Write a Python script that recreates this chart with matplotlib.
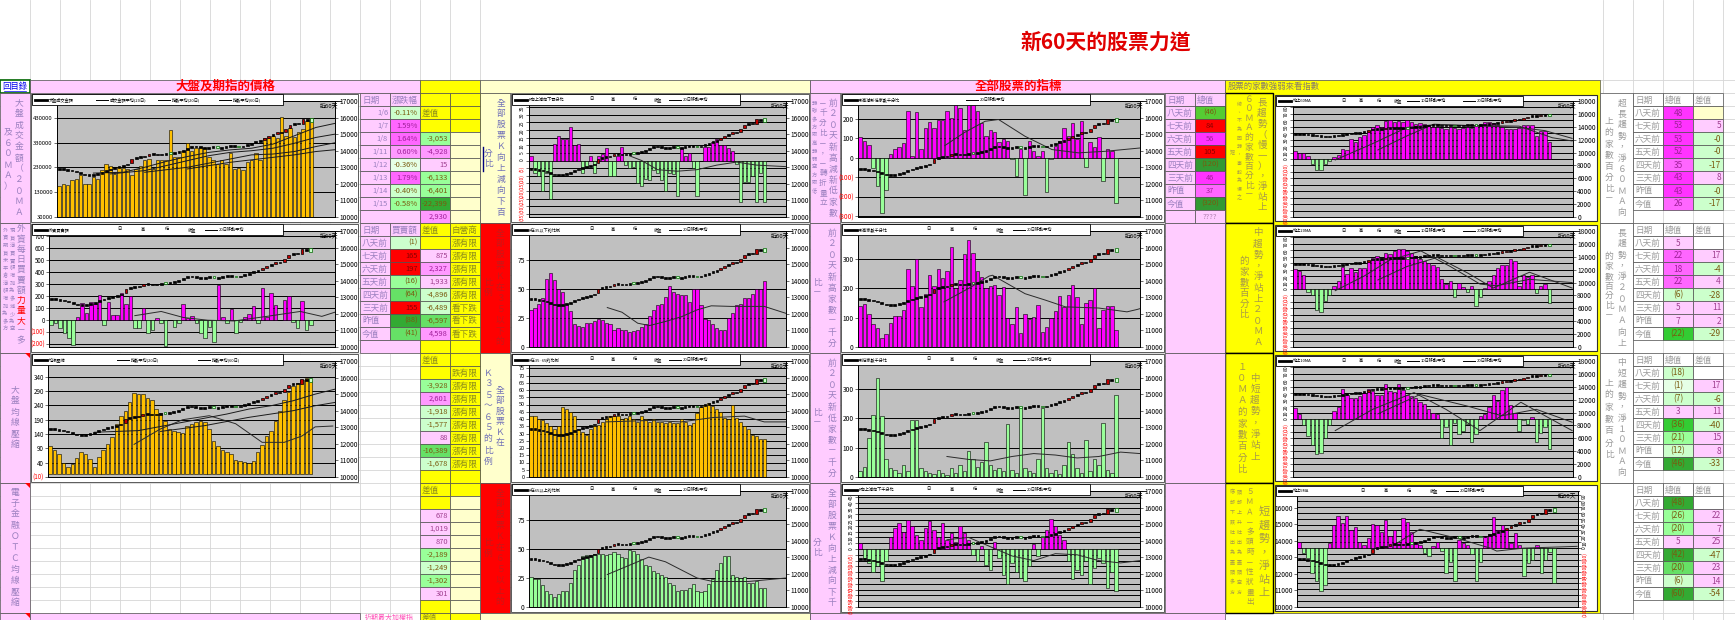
import numpy as np
import matplotlib
matplotlib.use('Agg')
import matplotlib.pyplot as plt
from matplotlib.patches import Rectangle, Polygon

plt.rcParams['font.family'] = ['Noto Sans CJK TC', 'DejaVu Sans']
plt.rcParams['axes.unicode_minus'] = False

# ======================= DATA =======================
index_close = [12900, 12860, 12840, 12800, 12700, 12600, 12540, 12500, 12540, 12600,
               12700, 12800, 12900, 12960, 13040, 13100, 13200, 13500, 13600, 13640,
               13660, 13800, 13800, 13760, 13800, 13800, 13800, 13900, 13940, 14040,
               14160, 14240, 14260, 14200, 14140, 14200, 14240, 14160, 14200, 14240,
               14300, 14260, 14200, 14300, 14360, 14460, 14540, 14640, 14760, 14880,
               14960, 15100, 15085, 15325, 15576, 15670, 15614, 15893, 15829, 15737]
index_open = [12880, 12900, 12850, 12830, 12780, 12680, 12580, 12540, 12500, 12560,
              12640, 12720, 12840, 12920, 12980, 13060, 13120, 13230, 13520, 13600,
              13630, 13700, 13820, 13800, 13740, 13780, 13900, 13820, 13900, 13960,
              14080, 14180, 14230, 14260, 14220, 14150, 14210, 14260, 14150, 14190,
              14250, 14300, 14300, 14220, 14320, 14380, 14480, 14560, 14650, 14780,
              14900, 14980, 15120, 15120, 15360, 15590, 15680, 15620, 15880, 16000]

# A1 market turnover (thousands)
a1_volume_k = [154, 165, 161, 178, 185, 198, 165, 165, 191, 182, 218, 245, 234, 205, 231, 229, 222, 198, 225, 234,
               258, 263, 222, 258, 258, 258, 381, 271, 271, 298, 327, 298, 309, 314, 309, 271, 258, 245, 258, 245,
               287, 225, 229, 221, 251, 258, 287, 258, 349, 349, 355, 349, 434, 358, 391, 351, 371, 385, 418, 431]
a1_ticks_k = [30, 130, 230, 330, 430]
a1_ticklabels = ['30000', '130000', '230000', '330000', '430000']
a1_ma_a = [(8, 12650), (15, 12700), (20, 13000), (25, 13350), (30, 13650), (35, 13900), (40, 14050),
           (45, 14150), (50, 14400), (55, 14900), (60, 15400), (64.5, 15650)]
a1_ma_b = [(12, 12600), (20, 12800), (25, 13100), (30, 13400), (35, 13700), (40, 13900), (45, 14000),
           (50, 14150), (55, 14450), (60, 14800), (64.5, 15000)]
a1_ma_c = [(20, 12700), (30, 13000), (40, 13500), (45, 13750), (50, 13800), (55, 13950), (60, 14250), (64.5, 14480)]
a1_ma_d = [(30, 12900), (40, 13300), (50, 13600), (55, 13750), (60, 13950), (64.5, 14060)]

# A2 foreign investors net buy/sell
a2_foreign = [-42, -23, -70, -113, -155, -211, 25, 142, 58, 150, 136, 209, -42, 150, 40, 40, 223, 136, 200, -70,
              -70, 98, -113, -85, 12, -23, -220, 1, -62, -30, 136, 12, 35, -30, -113, -155, -60, -183, 290, 20,
              -30, 93, -107, -20, 20, 50, 116, -25, 267, 20, 223, 122, -1, 165, 197, -16, -64, 155, -88, -41]
a2_ma = [(19, 35), (25, 70), (30, 20), (35.6, -3), (41.6, -9), (49, 29), (56.6, 70), (61.5, 29), (64.5, 64)]

# A3 MA compression
a3_compress = [97, 86, 72, 40, 26, 36, 58, 79, 72, 54, 26, 61, 83, 104, 130, 176, 204, 219, 251, 283,
               280, 280, 265, 258, 226, 212, 186, 158, 151, 147, 143, 169, 176, 183, 187, 183, 158, 115, 97, 86,
               79, 69, 51, 47, 43, 40, 47, 76, 101, 133, 151, 187, 222, 258, 286, 308, 319, 329, 336, 326]
a3_bar_ma = [(19, 104), (25, 158), (30, 190), (36, 204), (42, 176), (48, 111), (53, 111), (57, 133), (60, 165), (64, 168)]
a3_ma20 = [(10, 12700), (20, 12800), (30, 13300), (40, 13800), (45, 14100), (50, 14300), (55, 14600), (60, 15000), (64.5, 15300)]
a3_ma60 = [(25, 12750), (35, 13100), (45, 13600), (55, 14000), (60, 14300), (64.5, 14500)]

# B column: K-value statistics
b1_kdiff = [3, -8, -10, -20, -8, -25, 11, 16, 14, 14, 22, 10, 11, -8, -5, 3, -8, 3, 4, 8,
            -10, -10, 3, 9, -3, -5, -4, -15, -17, -12, -13, -6, -8, -13, -20, -8, -9, -23, 8, 3,
            5, -5, -23, 0, 9, 9, 12, 14, 10, 10, 8, 6, -2, -27, -14, -14, -10, -27, -8, -27]
b1_ma = [(25, 3), (28, 0), (32, -6), (37, -7), (42, -6), (47, -3), (52, -1), (57, -3), (64.5, -4)]
b2_k_low = [32, 34, 37, 42, 59, 64, 58, 50, 47, 37, 31, 20, 18, 17, 21, 21, 22, 24, 23, 21,
            20, 15, 16, 15, 15, 13, 14, 15, 17, 20, 27, 32, 36, 37, 43, 53, 47, 46, 45, 45,
            39, 50, 50, 36, 24, 23, 20, 16, 15, 15, 25, 29, 36, 37, 42, 42, 46, 50, 50, 57]
b2_ma = [(19.3, 34), (23, 30), (27, 20.5), (30, 18.5), (34, 22), (38, 26), (42, 32), (45.6, 35.5),
         (50.6, 35), (54.8, 35), (59, 35), (64.5, 29)]
b3_k_mid = [42, 42, 40, 39, 37, 35, 33, 35, 48, 47, 45, 42, 33, 31, 29, 33, 35, 36, 38, 40,
            42, 42, 42, 40, 41, 42, 40, 38, 42, 40, 38, 40, 38, 38, 37, 38, 37, 37, 40, 38,
            36, 37, 44, 48, 50, 51, 49, 47, 45, 41, 40, 50, 41, 38, 35, 33, 29, 28, 26, 26]
b3_ma = [(19, 38), (30, 39), (38, 38), (46, 41), (54, 42), (59, 38), (64.5, 38)]
b4_k_high = [26, 24, 24, 19, 14, 11, 9, 11, 14, 14, 21, 32, 36, 44, 45, 45, 46, 46, 46, 45,
             46, 47, 46, 43, 42, 49, 48, 46, 41, 36, 35, 31, 29, 28, 26, 21, 19, 14, 15, 15,
             16, 20, 14, 13, 14, 20, 24, 32, 38, 44, 44, 28, 26, 25, 26, 21, 21, 22, 16, 16]
b4_ma = [(19.3, 28), (29.8, 43), (34, 39), (42, 25), (46, 22), (55, 22), (64.5, 25)]

# C column: new highs / new lows
c1_hl_diff = [108, 85, 65, -50, -145, -280, -165, 22, 47, 57, 75, 240, 12, 235, 47, 155, 185, 155, 197, 197,
              240, 205, 282, 255, 145, 282, 282, 240, 180, 110, 145, 135, 80, 95, 85, -5, -95, 47, -190, 85,
              35, 12, 35, -175, -5, 60, 85, 155, 110, 180, 95, 190, -46, 84, 56, 105, -120, 46, 37, -230]
c1_ma = [(19.5, 63), (24, 130), (28.8, 188), (31.9, 197), (38, 111), (44.2, 43), (50.3, 26), (56.5, 34), (64.5, 51)]
c2_new_high = [139, 148, 114, 80, 66, 32, 46, 83, 107, 107, 128, 265, 207, 299, 137, 182, 245, 207, 265, 234,
               259, 340, 200, 228, 317, 365, 322, 259, 240, 200, 207, 211, 177, 205, 100, 80, 135, 49, 114, 95,
               103, 145, 50, 68, 100, 123, 173, 137, 179, 213, 169, 78, 151, 160, 200, 66, 125, 139, 139, 57]
c2_ma = [(19.3, 154), (25, 200), (29.7, 242), (30.5, 245), (38, 182), (42.7, 160), (47.3, 137), (55, 133),
         (61.5, 120), (63.8, 128), (64.5, 131)]
c3_new_low = [20, 35, 133, 211, 338, 208, 60, 30, 25, 15, 40, 20, 195, 195, 30, 20, 15, 10, 25, 12,
              8, 30, 15, 40, 20, 90, 60, 35, 50, 120, 40, 25, 30, 20, 180, 25, 15, 239, 30, 20,
              15, 60, 235, 30, 15, 25, 10, 40, 120, 80, 30, 15, 128, 20, 60, 40, 186, 25, 15, 280]
c3_ma = [(20, 70), (25, 60), (30, 55), (35, 70), (40, 80), (45, 75), (50, 65), (55, 70), (60, 85), (64.5, 80)]
c4_kdiff = [5, -8, -12, -20, -15, -28, -10, 10, 18, 22, 15, 25, 20, 12, 8, 18, 24, 16, 10, 22,
            8, 14, 6, 20, 14, 8, -5, -10, 3, -14, -18, 6, -8, -22, -30, -12, -20, -25, -28, -15,
            4, -6, 10, 16, 26, 20, 12, 8, -10, -26, -18, -22, -10, -30, -16, -8, -12, -34, -20, -36]
c4_ma = [(20, 8), (25, 10), (30, 2), (35, -6), (40, -10), (45, -4), (50, -5), (55, -10), (60, -12), (64.5, -10)]

# D column: percentage of stocks above moving averages
d1_ma60 = [13, 10, 9, 4, -8, -17, -17, -8, -3, 3, 6, 15, 14, 31, 27, 34, 37, 44, 49, 53,
           50, 59, 60, 58, 59, 58, 60, 57, 55, 56, 55, 52, 50, 50, 48, 47, 49, 48, 46, 48,
           50, 48, 52, 55, 57, 58, 56, 52, 50, 47, 46, 46, 48, 53, 53, 52, 35, 43, 43, 26]
d1_line1 = [(9.3, -1.5), (17.7, 23), (26, 49), (32, 53), (40, 52), (52, 51), (59.7, 33), (64.3, 28)]
d1_line2 = [(19.2, 14), (26, 36), (32.2, 54), (40, 52), (52, 49), (58, 44), (64.3, 32)]
d2_ma20 = [31, 28, 21, -4, -10, -33, -36, -18, -10, 5, 13, 34, 23, 33, 26, 33, 33, 44, 48, 51,
           48, 56, 55, 59, 62, 62, 59, 56, 51, 46, 44, 41, 38, 34, 15, 8, 13, -12, 10, 3,
           -5, 5, -27, -13, 2, 13, 22, 33, 38, 37, 46, 44, 5, 22, 18, 22, -6, 5, 7, -22]
d2_line1 = [(9.3, -2.6), (16, 20), (22, 45), (29.2, 59), (36, 35), (42.9, 7.7), (46.7, 5), (54.4, 15), (64.3, 10)]
d2_line2 = [(19.2, 14), (26, 35), (33, 49), (40, 25), (46, 1.5), (54.4, 26), (64.3, 1.5)]
d3_ma10 = [17, 8, -10, -26, -40, -54, -52, -29, -10, 12, 18, 46, 38, 33, 32, 36, 41, 46, 44, 38,
           38, 54, 44, 42, 55, 45, 38, 36, 32, 26, 23, 15, 10, 8, -29, -12, -41, -6, -23, -18,
           -8, -36, -23, 4, 8, 18, 37, 28, 45, 49, 22, 10, -18, -1, -7, 3, -36, -21, -12, -46]
d3_line1 = [(9.3, -18), (18, 15), (27.6, 41), (35, 15), (42.9, -18), (52.4, 26), (58, 5), (64.3, -18)]
d3_line2 = [(19.2, 8), (29, 38), (40, 20), (48, 5), (56, 15), (64.3, -5)]
d4_ma5 = [11, -8, -17, -42, -56, -73, -62, 8, 40, 55, 42, 55, 31, 36, 11, 6, 17, 41, 40, 28,
          48, 20, 31, 11, 51, 45, 28, 11, 6, -8, -13, 3, 10, -5, -43, -23, -56, 14, 8, 6,
          -10, -56, -23, 20, 24, 53, 31, 40, 31, 8, 25, 5, -48, -26, -20, 5, -42, -20, -6, -60]
d4_line = [(22.5, 8), (27.9, 32), (36.4, 17), (44.2, 0), (45.7, -5), (51.9, 0), (64.3, 3)]

# tables
t1_dates = ['1/6', '1/7', '1/8', '1/11', '1/12', '1/13', '1/14', '1/15']
t1_pct = ['-0.11%', '1.59%', '1.64%', '0.60%', '-0.36%', '1.79%', '-0.40%', '-0.58%']
t1_diff = ['-3,053', '-4,928', '15', '-6,133', '-6,401', '-22,399']
t1_diff_last = '2,930'
day_names = ['八天前', '七天前', '六天前', '五天前', '四天前', '三天前', '昨值', '今值']
t2_amount = ['(1)', '165', '197', '(16)', '(64)', '155', '(88)', '(41)']
t2_diff = ['875', '2,327', '1,933', '-4,896', '-6,489', '-6,597', '4,598']
t2_view = ['漲有限', '漲有限', '漲有限', '漲有限', '漲有限', '看下跌', '看下跌', '看下跌']
t3_diff = ['-3,928', '2,601', '-1,918', '-1,577', '88', '-16,389', '-1,678']
t4_diff = ['678', '1,019', '870', '-2,189', '-1,249', '-1,302', '301']
c_total = ['(46)', '84', '56', '105', '(120)', '46', '37', '(320)']
r1_total = ['48', '53', '53', '52', '35', '43', '43', '26']
r1_diff = ['', '5', '-0', '-0', '-17', '8', '-0', '-17']
r2_total = ['5', '22', '18', '22', '(6)', '5', '7', '(22)']
r2_diff = ['', '17', '-4', '4', '-28', '11', '2', '-29']
r3_total = ['(18)', '(1)', '(7)', '3', '(36)', '(21)', '(12)', '(46)']
r3_diff = ['', '17', '-6', '11', '-40', '15', '8', '-33']
r4_total = ['(48)', '(26)', '(20)', '5', '(42)', '(20)', '(6)', '(60)']
r4_diff = ['', '22', '7', '25', '-47', '23', '14', '-54']

# ======================= STYLE =======================
PINK = '#FFCCFF'; PINK2 = '#FF99FF'; PINK3 = '#FF66FF'; MAG = '#FF33FF'
RED = '#FF0000'; LG = '#CCFFCC'; VLG = '#E6FFE6'; G = '#99FF99'; G2 = '#66E066'; DG = '#33AA33'
YEL = '#FFFF00'; LY = '#FFFFCC'; WHITE = '#FFFFFF'
PLOT_GRAY = '#C0C0C0'; BAR_MAG = '#FF00FF'; BAR_GRN = '#99FF99'; BAR_ORG = '#FFC000'
PURPLE = '#9A7FBF'; BLUEP = '#7070B8'; OLIVE = '#A89A48'; GRAYT = '#9A9A9A'; REDT = '#C81818'
BORDER = '#505050'

t1_pct_colors = [LG, PINK3, PINK3, PINK2, VLG, PINK3, LG, G]
t1_diff_colors = [G, PINK2, PINK, G, G, DG]
t2_amount_colors = [LG, RED, RED, G, G2, RED, DG, G2]
t2_diff_colors = [PINK, PINK2, PINK, LG, LG, G2, PINK2]
t3_diff_colors = [G, PINK2, LG, LG, PINK, G2, LG]
t4_diff_colors = [PINK, PINK, PINK, G, LG, G, PINK]
c_total_colors = ['#55CC33', RED, MAG, RED, '#339933', MAG, PINK3, '#339933']
r1_total_colors = [MAG, MAG, MAG, MAG, PINK3, MAG, MAG, PINK3]
r1_diff_colors = [LY, PINK, LG, LG, LG, PINK, LG, LG]
r2_total_colors = [PINK, PINK3, PINK3, PINK3, LG, PINK, PINK, '#33CC33']
r2_diff_colors = [WHITE, PINK, LG, PINK, LG, PINK, PINK, LG]
r3_total_colors = [LG, VLG, LG, PINK, '#33CC33', G, LG, DG]
r3_diff_colors = [WHITE, PINK, LG, PINK, LG, PINK, PINK, LG]
r4_total_colors = [DG, G, G, PINK, DG, G2, LG, DG]
r4_diff_colors = [WHITE, PINK, PINK, PINK, LG, PINK, PINK, LG]


def tcol(fc):
    if fc == RED:
        return '#8B0000'
    if fc in (MAG, PINK3, PINK2):
        return '#A0209A'
    if fc == PINK:
        return '#A04090'
    if fc in (G, G2, DG, LG, VLG, '#55CC33', '#339933', '#33CC33'):
        return '#7A5A10'
    if fc == YEL:
        return '#8C8C1A'
    return '#707070'


W, H = 1735, 620
fig = plt.figure(figsize=(W / 100, H / 100), dpi=100)
bg = fig.add_axes([0, 0, 1, 1])
bg.set_xlim(0, W); bg.set_ylim(H, 0); bg.axis('off')

ROW_T = [93, 223, 353, 483]


def rect(x0, y0, x1, y1, fc, ec='none', lw=0.5, z=2, target=None):
    t = bg if target is None else target
    p = Rectangle((x0, y0), x1 - x0, y1 - y0, facecolor=fc, edgecolor=ec, linewidth=lw, zorder=z)
    t.add_patch(p)
    return p


def cell(x0, y0, x1, y1, fc, txt='', tc=None, fs=6.2, ha='right', ec=BORDER, lw=0.5):
    rect(x0, y0, x1, y1, fc, ec, lw)
    if txt:
        tx = x1 - 2 if ha == 'right' else (x0 + 2 if ha == 'left' else (x0 + x1) / 2)
        bg.text(tx, (y0 + y1) / 2 + 0.5, txt, ha=ha, va='center', fontsize=fs,
                color=tc if tc else tcol(fc), zorder=3)


def vcol(x, y, s, dy, fs, color):
    for i, ch in enumerate(s):
        bg.text(x, y + i * dy, ch, ha='center', va='center', fontsize=fs, color=color, zorder=4)


# ---- spreadsheet grid ----
GRID = '#D6D6D6'
for gx in list(range(30, 481, 30)) + [1603, 1633, 1663, 1693, 1723]:
    bg.plot([gx, gx], [0, H], color=GRID, lw=0.6, zorder=0)
for gy in range(80, H, 13):
    bg.plot([0, W], [gy, gy], color=GRID, lw=0.6, zorder=0)

# ---- title ----
bg.text(1106, 42, '新60天的股票力道', color='#E00000', fontsize=15, fontweight='bold',
        ha='center', va='center', zorder=4)

# ---- header band ----
cell(0, 80, 30, 93, WHITE, ec='#006600', lw=1.2)
bg.text(15, 86.5, '回目錄', color='#0000EE', fontsize=6, ha='center', va='center', zorder=4)
bg.plot([4, 26], [91, 91], color='#0000EE', lw=0.5, zorder=4)
rect(30, 80, 420, 93, PINK, BORDER)
bg.text(225, 86.5, '大盤及期指的價格', color='#FF0000', fontsize=9, fontweight='bold', ha='center', va='center', zorder=4)
rect(420, 80, 480, 93, YEL, BORDER)
rect(480, 80, 810, 93, LY, BORDER)
rect(810, 80, 1225, 93, PINK, BORDER)
bg.text(1018, 86.5, '全部股票的指標', color='#FF0000', fontsize=9, fontweight='bold', ha='center', va='center', zorder=4)
rect(1225, 80, 1600, 613, YEL, BORDER)
bg.text(1228, 86.5, '股票的家數強弱來看指數', color='#8A7F6A', fontsize=6, ha='left', va='center', zorder=4)

# ---- label columns ----
for k, T in enumerate(ROW_T):
    rect(0, T, 30, T + 130, PINK, BORDER)
    rect(480, T, 510, T + 130, RED if k in (1, 3) else LY, BORDER)
    rect(810, T, 840, T + 130, PINK, BORDER)
    rect(1225, T, 1273, T + 130, YEL, 'black', lw=1.0)
    rect(1600, T, 1633, T + 130, WHITE, BORDER)
    if k > 0:
        rect(1165, T, 1225, T + 130, PINK, BORDER)

# red comment triangles
for ty in (353, 483, 613):
    bg.add_patch(Polygon([[25, ty], [30, ty], [30, ty + 5]], closed=True, facecolor='#FF0000', edgecolor='none', zorder=5))

# left labels
vcol(19, 103, '大盤成交金額（２０ＭＡ', 11, 6.3, PURPLE)
vcol(8, 132, '及６０ＭＡ）', 11, 6.3, PURPLE)
vcol(21, 229, '外資每日買賣額', 10.2, 6.3, PURPLE)
vcol(21, 229 + 7 * 10.2, '力量大', 10.2, 6.3, '#FF0000')
vcol(21, 229 + 10 * 10.2, '－多', 10.2, 6.3, PURPLE)
vcol(12, 230, '現貨淨買賣額增加為多減少為空', 7.6, 3.8, PURPLE)
vcol(5, 230, '外資期貨未平倉淨額增加為多方', 7.6, 3.8, PURPLE)
vcol(15, 390, '大盤均線壓縮', 11, 6.3, PURPLE)
vcol(15, 492, '電子金融ＯＴＣ均線壓縮', 11.1, 6.3, PURPLE)

vcol(501, 103, '全部股票Ｋ向上減向下百', 10.9, 6.3, BLUEP)
vcol(488, 153, '分比', 10.5, 6.3, BLUEP)
bg.plot([483, 483], [147, 171], color='#000080', lw=1, zorder=4)
vcol(500, 233, '全部股票Ｋ在３５以下的', 10.9, 6.3, REDT)
vcol(488, 282, '比例', 10.5, 6.3, REDT)
vcol(500, 390, '全部股票Ｋ在', 10.6, 6.3, BLUEP)
vcol(488, 373, 'Ｋ３５～６５的比例', 11, 6.3, BLUEP)
vcol(500, 493, '全部股票Ｋ在６５以上的', 10.9, 6.3, REDT)
vcol(488, 543, '比例', 10.5, 6.3, REDT)

vcol(833, 103, '前２０天新高減新低家數', 11, 6.3, PURPLE)
vcol(823, 103, '－千分比－，－轉折量立', 10, 5.5, PURPLE)
vcol(814, 103, '轉強多方取高轉弱空方取低', 8, 3.8, PURPLE)
vcol(832, 233, '前２０天新高家數－千分', 11, 6.3, PURPLE)
vcol(817, 282, '比－', 11, 6.3, PURPLE)
vcol(832, 363, '前２０天新低家數－千分', 11, 6.3, PURPLE)
vcol(817, 412, '比－', 11, 6.3, PURPLE)
vcol(832, 493, '全部股票Ｋ向上減向下千', 11, 6.3, PURPLE)
vcol(817, 542, '分比', 11, 6.3, PURPLE)

vcol(1262, 103, '長趨勢（慢一），淨站上', 10.5, 6.8, OLIVE)
vcol(1249, 99, '６０ＭＡ的家數百分比－', 9.6, 6.3, OLIVE)
vcol(1239, 104, '線、不為回轉，事較為慢之', 8.5, 3.6, OLIVE)
bg.text(1232, 153, '短', fontsize=3.6, color=OLIVE, ha='center', va='center', zorder=4)
vcol(1258, 233, '中趨勢，淨站上２０ＭＡ', 11, 6.8, OLIVE)
vcol(1244, 262, '的家數百分比', 10.6, 6.8, OLIVE)
vcol(1255, 378, '中短趨勢，淨站上', 11.3, 6.8, OLIVE)
vcol(1242, 367, '１０ＭＡ的家數百分比', 11.4, 6.8, OLIVE)
vcol(1264, 512, '短趨勢，淨站上', 13.5, 8, OLIVE)
vcol(1250, 492, '５ＭＡ－多頭時－性狀畫出', 10, 5.5, OLIVE)
vcol(1239, 492, '頭部上升吐出為盡頭空方', 10, 3.6, OLIVE)
vcol(1232, 492, '底部下跌吐出為盡頭多方', 10, 3.6, OLIVE)

vcol(1622, 103, '超長趨勢，淨６０ＭＡ向', 11, 6.3, GRAYT)
vcol(1609, 122, '上的家數百分比－', 11, 6.3, GRAYT)
vcol(1622, 233, '長趨勢，淨２０ＭＡ向上', 11, 6.3, GRAYT)
vcol(1609, 257, '的家數百分比－', 9.7, 6.3, GRAYT)
vcol(1622, 363, '中短趨勢，淨１０ＭＡ向', 11, 6.3, GRAYT)
vcol(1609, 383, '上的家數百分比', 12, 6.3, GRAYT)

# ---- tables ----
NF = 5.4  # numeric font


def ry(T, r):
    return T + 13 * r


# row 1 (T=93)
T = 93
cell(360, ry(T, 0), 390, ry(T, 1), PINK, '日期', PURPLE, ha='left')
cell(390, ry(T, 0), 420, ry(T, 1), PINK, '漲跌幅', PURPLE, ha='left')
for i in range(8):
    cell(360, ry(T, i + 1), 390, ry(T, i + 2), PINK, t1_dates[i], PURPLE, fs=NF)
    cell(390, ry(T, i + 1), 420, ry(T, i + 2), t1_pct_colors[i], t1_pct[i], fs=NF)
cell(360, ry(T, 9), 420, ry(T, 10), PINK)
cell(420, ry(T, 0), 450, ry(T, 1), YEL)
cell(420, ry(T, 1), 450, ry(T, 2), YEL, '差值', ha='left')
cell(420, ry(T, 2), 450, ry(T, 3), YEL)
for i in range(6):
    cell(420, ry(T, 3 + i), 450, ry(T, 4 + i), t1_diff_colors[i], t1_diff[i], fs=NF)
cell(420, ry(T, 9), 450, ry(T, 10), PINK2, t1_diff_last, fs=NF)
for r in range(10):
    cell(450, ry(T, r), 480, ry(T, r + 1), YEL if r < 3 else LY)

# row 2 (T=223)
T = 223
cell(360, ry(T, 0), 390, ry(T, 1), PINK, '日期', PURPLE, ha='left')
cell(390, ry(T, 0), 420, ry(T, 1), PINK, '買賣額', PURPLE, ha='left')
for i in range(8):
    cell(360, ry(T, i + 1), 390, ry(T, i + 2), PINK, day_names[i], PURPLE, ha='left')
    cell(390, ry(T, i + 1), 420, ry(T, i + 2), t2_amount_colors[i], t2_amount[i], fs=NF)
cell(360, ry(T, 9), 420, ry(T, 10), PINK)
cell(420, ry(T, 0), 450, ry(T, 1), YEL, '差值', ha='left')
cell(420, ry(T, 1), 450, ry(T, 2), YEL)
for i in range(7):
    cell(420, ry(T, 2 + i), 450, ry(T, 3 + i), t2_diff_colors[i], t2_diff[i], fs=NF)
cell(420, ry(T, 9), 450, ry(T, 10), YEL)
cell(450, ry(T, 0), 480, ry(T, 1), YEL, '自營商', ha='left')
for i in range(8):
    cell(450, ry(T, i + 1), 480, ry(T, i + 2), YEL, t2_view[i], ha='left')
cell(450, ry(T, 9), 480, ry(T, 10), YEL)

# row 3 (T=353)
T = 353
cell(420, ry(T, 0), 450, ry(T, 1), YEL, '差值', ha='left')
cell(420, ry(T, 1), 450, ry(T, 2), YEL)
for i in range(7):
    cell(420, ry(T, 2 + i), 450, ry(T, 3 + i), t3_diff_colors[i], t3_diff[i], fs=NF)
cell(420, ry(T, 9), 450, ry(T, 10), YEL)
cell(450, ry(T, 0), 480, ry(T, 1), YEL)
cell(450, ry(T, 1), 480, ry(T, 2), YEL, '跌有限', ha='left')
for i in range(7):
    cell(450, ry(T, 2 + i), 480, ry(T, 3 + i), YEL, '漲有限', ha='left')
cell(450, ry(T, 9), 480, ry(T, 10), YEL)

# row 4 (T=483)
T = 483
cell(420, ry(T, 0), 450, ry(T, 1), YEL, '差值', ha='left')
cell(420, ry(T, 1), 450, ry(T, 2), YEL)
for i in range(7):
    cell(420, ry(T, 2 + i), 450, ry(T, 3 + i), t4_diff_colors[i], t4_diff[i], fs=NF)
cell(420, ry(T, 9), 450, ry(T, 10), YEL)
cell(450, ry(T, 0), 480, ry(T, 1), YEL)
for r in range(1, 10):
    cell(450, ry(T, r), 480, ry(T, r + 1), LY)

# table next to C1
T = 93
cell(1165, ry(T, 0), 1195, ry(T, 1), PINK, '日期', PURPLE, ha='left')
cell(1195, ry(T, 0), 1225, ry(T, 1), PINK, '總值', PURPLE, ha='left')
for i in range(8):
    cell(1165, ry(T, i + 1), 1195, ry(T, i + 2), PINK, day_names[i], PURPLE, ha='left')
    cell(1195, ry(T, i + 1), 1225, ry(T, i + 2), c_total_colors[i], c_total[i], fs=NF, ha='center')
cell(1165, ry(T, 9), 1195, ry(T, 10), PINK)
cell(1195, ry(T, 9), 1225, ry(T, 10), PINK, '????', '#B080B0', fs=NF, ha='center')

# right tables
right_tables = [(r1_total, r1_total_colors, r1_diff, r1_diff_colors),
                (r2_total, r2_total_colors, r2_diff, r2_diff_colors),
                (r3_total, r3_total_colors, r3_diff, r3_diff_colors),
                (r4_total, r4_total_colors, r4_diff, r4_diff_colors)]
for k, (tot, totc, dif, difc) in enumerate(right_tables):
    T = ROW_T[k]
    cell(1633, ry(T, 0), 1663, ry(T, 1), WHITE, '日期', GRAYT, ha='left')
    cell(1663, ry(T, 0), 1693, ry(T, 1), WHITE, '總值', GRAYT, ha='left')
    cell(1693, ry(T, 0), 1723, ry(T, 1), WHITE, '差值', GRAYT, ha='left')
    for i in range(8):
        cell(1633, ry(T, i + 1), 1663, ry(T, i + 2), WHITE, day_names[i], GRAYT, ha='left')
        cell(1663, ry(T, i + 1), 1693, ry(T, i + 2), totc[i], tot[i], fs=6, ha='center')
        cell(1693, ry(T, i + 1), 1723, ry(T, i + 2), difc[i], dif[i], fs=6)

# bottom strip
rect(0, 613, 30, 630, PINK, BORDER)
rect(30, 613, 360, 630, PINK, BORDER)
bg.text(389, 614, '近期最大加權指', fontsize=5, color='#FF55BB', ha='center', va='top', zorder=4)
cell(420, 613, 450, 630, YEL)
bg.text(422, 614, '差值', fontsize=5.5, color='#8C8C1A', ha='left', va='top', zorder=4)
rect(450, 613, 480, 630, YEL, BORDER)
rect(480, 613, 810, 630, LY, BORDER)
rect(810, 613, 1225, 630, PINK, BORDER)

# ---- chart frames ----
for k in range(3):
    T = ROW_T[k]
    rect(31, T + 1, 358, T + 129, WHITE, '#404040', lw=0.6)
for k in range(4):
    T = ROW_T[k]
    rect(511, T + 1, 809, T + 129, WHITE, '#404040', lw=0.6)
    rect(841, T + 1, 1164, T + 129, WHITE, '#404040', lw=0.6)
    rect(1275, T + 2, 1597, T + 128, WHITE, '#303030', lw=0.8)


def draw_chart(box, bars, pos_col, neg_col, ylim, yticks, ylabels, gridvals,
               bar_lines=(), idx_lines=(), idx_lim=(10000, 17000), idx_ticks=None,
               swap=False, lfs=4.8, rot=0, hide_top_idx=False):
    x0, y0, x1, y1 = box
    ax = fig.add_axes([x0 / W, 1 - y1 / H, (x1 - x0) / W, (y1 - y0) / H])
    ax.set_facecolor(PLOT_GRAY)
    xs = np.arange(len(bars))
    cols = [pos_col if v >= 0 else neg_col for v in bars]
    ax.bar(xs, bars, width=0.8, color=cols, edgecolor='black', linewidth=0.4, zorder=3)
    for g in gridvals:
        ax.axhline(g, color='black', lw=0.7, zorder=1)
    for ln in bar_lines:
        ax.plot([p[0] for p in ln], [p[1] for p in ln], color='#2a2a2a', lw=0.7, zorder=4)
    ax.set_xlim(-0.5, 64.5)
    ax.set_ylim(*ylim)
    ax.set_xticks([])
    ax.set_yticks(yticks)
    ax.set_yticklabels(ylabels)
    for s in ax.spines.values():
        s.set_color('black'); s.set_linewidth(0.6)

    ax2 = ax.twinx()
    o = np.array(index_open, dtype=float)
    c = np.array(index_close, dtype=float)
    span = idx_lim[1] - idx_lim[0]
    minh = span * 0.014
    lo = np.minimum(o, c); hi = np.maximum(o, c)
    hgt = np.maximum(hi - lo, minh)
    bot = lo - (hgt - (hi - lo)) / 2
    face, edge = [], []
    for oo, cc in zip(o, c):
        if abs(cc - oo) < 90:
            face.append('black'); edge.append('black')
        elif cc > oo:
            face.append('#C00000'); edge.append('black')
        else:
            face.append('#CCFFCC'); edge.append('#006600')
    ax2.bar(np.arange(len(c)), hgt, bottom=bot, width=0.65, color=face, edgecolor=edge, linewidth=0.5, zorder=5)
    for ln in idx_lines:
        ax2.plot([p[0] for p in ln], [p[1] for p in ln], color='#1a1a1a', lw=0.7, zorder=4)
    ax2.set_ylim(*idx_lim)
    ax2.set_xlim(-0.5, 64.5)
    if idx_ticks is None:
        idx_ticks = list(range(10000, 17001, 1000))
    ax2.set_yticks(idx_ticks)
    ax2.set_yticklabels([str(t) for t in idx_ticks])
    for s in ax2.spines.values():
        s.set_color('black'); s.set_linewidth(0.6)
    if swap:
        ax.yaxis.tick_right()
        ax2.yaxis.tick_left()
    ax.tick_params(axis='y', length=2, width=0.4, pad=1, labelsize=lfs, labelrotation=rot)
    ax2.tick_params(axis='y', length=2, width=0.4, pad=1, labelsize=4.8)
    for tk, v in zip(ax.yaxis.get_major_ticks(), yticks):
        col = '#FF0000' if v < 0 else 'black'
        tk.label1.set_color(col); tk.label2.set_color(col)
    return ax, ax2


def labs(ticks):
    return ['(%d)' % (-t) if t < 0 else '%d' % t for t in ticks]


# ---- column A ----
draw_chart((57, 101, 335, 217), a1_volume_k, BAR_ORG, BAR_ORG, (30, 498), a1_ticks_k, a1_ticklabels,
           a1_ticks_k[1:], idx_lines=[a1_ma_a, a1_ma_b, a1_ma_c, a1_ma_d], lfs=4.3)
t_a2 = list(range(-200, 701, 100))
draw_chart((49, 231, 335, 347), a2_foreign, BAR_MAG, BAR_GRN, (-226, 740), t_a2, labs(t_a2), t_a2,
           bar_lines=[a2_ma], lfs=4.5)
t_a3 = list(range(-10, 341, 50))
draw_chart((48, 361, 335, 477), a3_compress, BAR_ORG, BAR_ORG, (-10, 395), t_a3, labs(t_a3), t_a3[1:],
           bar_lines=[a3_bar_ma], idx_lines=[a3_ma20, a3_ma60], lfs=4.5)

# ---- column B ----
t_b1 = list(range(-35, 36, 5))
draw_chart((529, 101, 786, 217), b1_kdiff, BAR_MAG, BAR_GRN, (-37, 39), t_b1, labs(t_b1), t_b1,
           bar_lines=[b1_ma], lfs=3.6, rot=90)
t_b2 = [0, 25, 50, 75]
draw_chart((529, 231, 786, 347), b2_k_low, BAR_MAG, BAR_MAG, (0, 100), t_b2, labs(t_b2), [25, 50, 75],
           bar_lines=[b2_ma])
t_b3 = list(range(0, 76, 5))
draw_chart((529, 361, 786, 477), b3_k_mid, BAR_ORG, BAR_ORG, (0, 80), t_b3, labs(t_b3), t_b3[1:],
           bar_lines=[b3_ma], lfs=4)
draw_chart((529, 491, 786, 607), b4_k_high, BAR_GRN, BAR_GRN, (0, 100), t_b2, labs(t_b2), [25, 50, 75],
           bar_lines=[b4_ma])

# ---- column C ----
t_c1 = list(range(-300, 201, 100))
draw_chart((858, 101, 1140, 217), c1_hl_diff, BAR_MAG, BAR_GRN, (-303, 292), t_c1, labs(t_c1), t_c1,
           bar_lines=[c1_ma])
t_c2 = [0, 100, 200, 300]
draw_chart((858, 231, 1140, 347), c2_new_high, BAR_MAG, BAR_MAG, (0, 396), t_c2, labs(t_c2), [100, 200, 300],
           bar_lines=[c2_ma])
draw_chart((858, 361, 1140, 477), c3_new_low, BAR_GRN, BAR_GRN, (0, 396), t_c2, labs(t_c2), [100, 200, 300],
           bar_lines=[c3_ma])
t_c4 = list(range(-50, 46, 5))
draw_chart((858, 491, 1140, 607), c4_kdiff, BAR_MAG, BAR_GRN, (-50, 50), t_c4, labs(t_c4), t_c4,
           bar_lines=[c4_ma], lfs=3.6, rot=90)

# ---- column D ----
t_d = list(range(-90, 81, 10))
t_didx = list(range(0, 18001, 2000))
draw_chart((1293, 101, 1573, 217), d1_ma60, BAR_MAG, BAR_GRN, (-90, 90), t_d, labs(t_d), t_d,
           bar_lines=[d1_line1, d1_line2], idx_lim=(0, 18000), idx_ticks=t_didx, lfs=3.6, rot=90)
draw_chart((1293, 231, 1573, 347), d2_ma20, BAR_MAG, BAR_GRN, (-90, 90), t_d, labs(t_d), t_d,
           bar_lines=[d2_line1, d2_line2], idx_lim=(0, 18000), idx_ticks=t_didx, lfs=3.6, rot=90)
draw_chart((1293, 361, 1573, 477), d3_ma10, BAR_MAG, BAR_GRN, (-90, 90), t_d, labs(t_d), t_d,
           bar_lines=[d3_line1, d3_line2], idx_lim=(0, 18000), idx_ticks=t_didx, lfs=3.6, rot=90)
t_d4 = list(range(-100, 91, 10))
draw_chart((1297, 491, 1578, 607), d4_ma5, BAR_MAG, BAR_GRN, (-100, 97), t_d4, labs(t_d4), t_d4,
           bar_lines=[d4_line], idx_ticks=list(range(10000, 16001, 1000)), swap=True, lfs=3.6, rot=90)

# ---- overlay: legends and captions ----
ov = fig.add_axes([0, 0, 1, 1])
ov.set_xlim(0, W); ov.set_ylim(H, 0); ov.axis('off')
ov.patch.set_alpha(0)


def legend_box(x0, y0, x1, y1, items):
    box = rect(x0, y0, x1, y1, WHITE, 'black', lw=0.6, z=5, target=ov)
    weights = [1 if k == 'none' else 3.2 for k, _ in items]
    tot = sum(weights)
    cx = x0 + 3
    ym = (y0 + y1) / 2
    for (kind, lab), w in zip(items, weights):
        seg = (x1 - x0 - 6) * w / tot
        if kind in ('thick', 'thin'):
            ov.plot([cx, cx + 12], [ym, ym], color='black', lw=2.0 if kind == 'thick' else 0.7, zorder=6)
            tx = cx + 14
        else:
            tx = cx + seg * 0.3
        t = ov.text(tx, ym, lab, fontsize=3, va='center', ha='left', zorder=6, color='black')
        t.set_clip_path(box)
        cx += seg


stock_items = [('none', '日'), ('none', '高'), ('none', '低'), ('none', '收盤')]
leg_A = [[('thick', '大盤成交金額'), ('thin', '成交金額平均(20日)'), ('thin', '指數平均(20日)'), ('thin', '指數平均(60日)')],
         [('thick', '外資買賣額')] + stock_items + [('thin', '20日移動平均')],
         [('thick', '均線壓縮'), ('thin', '指數平均(20日)'), ('thin', '指數平均(60日)')]]
leg_B = [[('thick', 'K向上減向下百分比')] + stock_items + [('thin', '20日移動平均')],
         [('thick', 'K在35以下的比例')] + stock_items + [('thin', '20日移動平均')],
         [('thick', 'K在35~65的比例')] + stock_items + [('thin', '20日移動平均')],
         [('thick', 'K在65以上的比例')] + stock_items + [('thin', '20日移動平均')]]
leg_C = [[('thick', '新高減新低家數千分比'), ('thin', '20日移動平均')],
         [('thick', '新高家數千分比')] + stock_items + [('thin', '20日移動平均')],
         [('thick', '新低家數千分比')] + stock_items + [('thin', '20日移動平均')],
         [('thick', 'K向上減向下千分比')] + stock_items + [('thin', '20日移動平均')]]
leg_D = [[('thick', '站上60MA')] + stock_items + [('thin', '10日移動平均'), ('thin', '20日移動平均')],
         [('thick', '站上20MA')] + stock_items + [('thin', '10日移動平均'), ('thin', '20日移動平均')],
         [('thick', '站上10MA')] + stock_items + [('thin', '10日移動平均'), ('thin', '20日移動平均')],
         [('thick', '站上5MA')] + stock_items + [('thin', '20日移動平均')]]

for k in range(3):
    T = ROW_T[k]
    legend_box(32, T + 1, 283, T + 12, leg_A[k])
    ov.plot([283, 341], [T + 8, T + 8], color='black', lw=0.6, zorder=5)
    ov.text(338, T + 12, '近60天', fontsize=4.3, ha='right', va='center', zorder=6)
for k in range(4):
    T = ROW_T[k]
    legend_box(512, T + 1, 740, T + 12, leg_B[k])
    ov.plot([740, 792], [T + 8, T + 8], color='black', lw=0.6, zorder=5)
    ov.text(789, T + 12, '近60天', fontsize=4.3, ha='right', va='center', zorder=6)
    legend_box(842, T + 1, 1090, T + 12, leg_C[k])
    ov.plot([1090, 1146], [T + 8, T + 8], color='black', lw=0.6, zorder=5)
    ov.text(1143, T + 12, '近60天', fontsize=4.3, ha='right', va='center', zorder=6)
    legend_box(1276, T + 3, 1523, T + 13, leg_D[k])
    ov.plot([1523, 1579], [T + 8, T + 8], color='black', lw=0.6, zorder=5)
    ov.text(1576, T + 12, '近60天', fontsize=4.3, ha='right', va='center', zorder=6)

fig.savefig('out.png', dpi=100)
